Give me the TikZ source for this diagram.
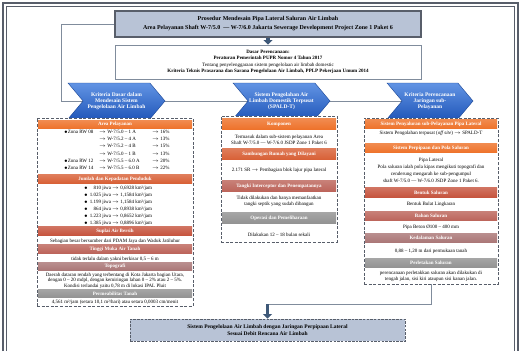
\documentclass[tikz,border=0pt]{standalone}
\usepackage{fontspec}
\setmainfont{Liberation Serif}
\usepackage{tikz}
\usetikzlibrary{arrows.meta, positioning, shapes.symbols, backgrounds}
\definecolor{framegray}{RGB}{88,94,106}
\definecolor{linkgray}{RGB}{128,140,156}
\definecolor{titlefill}{RGB}{184,195,214}
\definecolor{arrowblue}{RGB}{62,88,120}
\definecolor{chevtop}{RGB}{98,148,228}
\definecolor{chevbot}{RGB}{34,88,186}
\definecolor{hdrorange}{RGB}{238,114,42}
\definecolor{hdrburnt}{RGB}{216,96,54}
\definecolor{hdrbrick}{RGB}{198,84,62}
\definecolor{hdrrose}{RGB}{188,100,90}
\definecolor{hdrmauve}{RGB}{170,118,118}
\definecolor{hdrgray}{RGB}{146,146,146}
\tikzset{
    % Title and planning basis
    titlebox/.style={rectangle, draw=framegray, line width=1.2pt, fill=titlefill,
                minimum width=306pt, minimum height=26pt, align=center, inner sep=0pt,
                font=\fontsize{6}{9}\selectfont\bfseries},
    basisbox/.style={rectangle, draw=linkgray, line width=0.9pt, fill=white,
                minimum width=306pt, minimum height=34pt, align=center, inner sep=0pt,
                font=\fontsize{5}{6.4}\selectfont},
    endbox/.style={rectangle, draw=framegray, dash pattern=on 2.5pt off 1.2pt, line width=0.9pt,
                fill=titlefill, minimum width=275pt, minimum height=22pt, align=center,
                inner sep=0pt, font=\fontsize{5.5}{7.3}\selectfont\bfseries},
    % Chevrons
    chevbox/.style={shape=signal, signal from=west, signal to=east, signal pointer angle=100,
                top color=chevtop, bottom color=chevbot, draw=chevbot!80!black, line width=0.4pt,
                minimum height=36pt, inner sep=0pt, text=white, align=center,
                font=\fontsize{5.5}{6.3}\selectfont\bfseries},
    % Columns
    colbox/.style={rectangle, draw=framegray, dash pattern=on 3pt off 1.6pt, line width=0.9pt,
                fill=white, inner sep=0pt},
    hdrbox/.style={rectangle, top color=#1!82!white, bottom color=#1, inner sep=0pt,
                text=white, font=\fontsize{5}{6}\selectfont\bfseries},
    lhdr/.style={hdrbox=#1, minimum width=154pt, minimum height=8.5pt},
    mhdr/.style={hdrbox=#1, minimum width=114pt, minimum height=11pt},
    rhdr/.style={hdrbox=#1, minimum width=132pt, minimum height=9.5pt},
    bodytxt/.style={align=center, inner sep=0pt, font=\fontsize{5}{6.4}\selectfont},
    % Connectors
    linkline/.style={draw=linkgray, line width=1pt},
    blockarrow/.style={arrowblue, line width=3.5pt, -{Triangle[length=4.5pt, width=9pt]}},
}
\begin{document}
\begin{tikzpicture}[x=1pt, y=-1pt]
\useasboundingbox (0,0) rectangle (521,351);

% Page frame
\draw[framegray, line width=1.4pt] (3,351) -- (3,3) -- (518,3) -- (518,351);
\draw[framegray, line width=0.5pt] (6.5,351) -- (6.5,6.5) -- (514.5,6.5) -- (514.5,351);

% Title
\node[titlebox] (title) at (268,24) {Prosedur Mendesain Pipa Lateral Saluran Air Limbah\\
    Area Pelayanan Shaft W-7/5.0 \ --- W-7/6.0 Jakarta Sewerage Development Project Zone 1 Paket 6};

% Planning basis
\node[basisbox] (basis) at (268,62) {\textbf{Dasar Perencanaan:}\\
    \textbf{Peraturan Pemerintah PUPR Nomor 4 Tahun 2017}\\
    Tentang penyelenggaraan sistem pengelolaan air limbah domestic\\
    \textbf{Kriteria Teknis Prasarana dan Sarana Pengelolaan Air Limbah, PPLP Pekerjaan Umum 2014}};

% Chevrons
\node[chevbox, minimum width=97pt] (lchev) at (116.5,101) {Kriteria Dasar dalam\\Mendesain Sistem\\Pengelolaan Air Limbah};
\node[chevbox, minimum width=97pt] (mchev) at (281.5,101) {Sistem Pengolahan Air\\Limbah Domestik Terpusat\\(SPALD-T)};
\node[chevbox, minimum width=86pt] (rchev) at (430,101) {Kriteria Perencanaan\\Jaringan sub-\\Pelayanan};

% Left column
\node[colbox, minimum width=156pt, minimum height=188pt] (lcol) at (115,212) {};
\node[lhdr=hdrorange] (lh1) at (115,124.5) {Area Pelayanan};
\node[bodytxt, anchor=west, font=\fontsize{5}{7.2}\selectfont] (larea) at (64,150) {%
    \begin{tabular}{@{}p{35pt}@{}p{53pt}@{}l@{}}
    $\bullet$Zona RW 08 & $\rightarrow$ W-7/5.0 -- 1 A & $\rightarrow$ 16\%\\
     & $\rightarrow$ W-7/5.2 -- 4 A & $\rightarrow$ 13\%\\
     & $\rightarrow$ W-7/5.2 -- 4 B & $\rightarrow$ 15\%\\
     & $\rightarrow$ W-7/5.0 -- 1 B & $\rightarrow$ 13\%\\
    $\bullet$Zona RW 12 & $\rightarrow$ W-7/5.5 -- 6.0 A & $\rightarrow$ 20\%\\
    $\bullet$Zona RW 14 & $\rightarrow$ W-7/5.5 -- 6.0 B & $\rightarrow$ 22\%
    \end{tabular}};
\node[lhdr=hdrburnt] (lh2) at (115,179) {Jumlah dan Kepadatan Penduduk};
\node[bodytxt, anchor=west, font=\fontsize{5}{7}\selectfont] (lpop) at (84,205.5) {%
    \begin{tabular}{@{}l@{\hspace{2pt}}r@{ }l@{}}
    $\bullet$ & 810 & jiwa $\rightarrow$ 0,6928 km²/jam\\
    $\bullet$ & 1.025 & jiwa $\rightarrow$ 1,1584 km²/jam\\
    $\bullet$ & 1.199 & jiwa $\rightarrow$ 1,1584 km²/jam\\
    $\bullet$ & 864 & jiwa $\rightarrow$ 0,8938 km²/jam\\
    $\bullet$ & 1.223 & jiwa $\rightarrow$ 0,8652 km²/jam\\
    $\bullet$ & 1.385 & jiwa $\rightarrow$ 0,8896 km²/jam
    \end{tabular}};
\node[lhdr=hdrbrick] (lh3) at (115,231) {Suplai Air Bersih};
\node[bodytxt] (lwater) at (115,241) {Sebagian besar bersumber dari PDAM Jaya dan Waduk Jatiluhur};
\node[lhdr=hdrrose] (lh4) at (115,249) {Tinggi Muka Air Tanah};
\node[bodytxt] (lground) at (115,259) {tidak terlalu dalam yakni berkisar 0,5 -- 6 m};
\node[lhdr=hdrmauve] (lh5) at (115,266.5) {Topografi};
\node[bodytxt, font=\fontsize{5}{5.6}\selectfont] (ltopo) at (115,280.5) {Daerah dataran rendah yang terbentang di Kota Jakarta bagian Utara,\\
    dengan 0 -- 20 mdpl, dengan kemiringan lahan 0 -- 2\% atau 2 -- 5\%.\\
    Kondisi terlandai yaitu 0,78 m di lokasi IPAL Pluit};
\node[lhdr=hdrgray] (lh6) at (115,293.5) {Permeabilitas Tanah};
\node[bodytxt] (lperm) at (115,302) {4,561 m²/jam (setara 10,1 m²/hari) atau setara 0,0003 cm/menit};

% Middle column
\node[colbox, minimum width=116pt, minimum height=126pt] (mcol) at (279,179) {};
\node[mhdr=hdrorange] (mh1) at (279,124) {Komponen};
\node[bodytxt, font=\fontsize{5}{5.8}\selectfont] (mcomp) at (279,140) {Termasuk dalam sub-sistem pelayanan Area\\Shaft W-7/5.0 --- W-7/6.0 JSDP Zone 1 Paket 6};
\node[mhdr=hdrburnt] (mh2) at (279,154) {Sambungan Rumah yang Dilayani};
\node[bodytxt] (mhouse) at (279,170) {2.171 SR $\rightarrow$ Pembagian blok lajur pipa lateral};
\node[mhdr=hdrrose] (mh3) at (279,186) {Tangki Interceptor dan Penempatannya};
\node[bodytxt, font=\fontsize{5}{6}\selectfont] (mtank) at (279,201) {Tidak dilakukan dan hanya memanfaatkan\\tangki septik yang sudah dibangun};
\node[mhdr=hdrgray] (mh4) at (279,218) {Operasi dan Pemeliharaan};
\node[bodytxt] (moper) at (279,235) {Dilakukan 12 -- 18 bulan sekali};

% Right column
\node[colbox, minimum width=134pt, minimum height=166pt] (rcol) at (431,201) {};
\node[rhdr=hdrorange] (rh1) at (431,124) {Sistem Penyaluran sub-Pelayanan Pipa Lateral};
\node[bodytxt] (rsys) at (431,133.5) {Sistem Pengolahan terpusat (\textit{off site}) $\rightarrow$ SPALD-T};
\node[rhdr=hdrorange] (rh2) at (431,148) {Sistem Perpipaan dan Pola Saluran};
\node[bodytxt, font=\fontsize{5}{6.9}\selectfont] (rpipe) at (431,170.5) {Pipa Lateral\\
    Pola saluran ialah pola kipas mengikuti topografi dan\\
    cenderung mengarah ke sub-pengumpul\\
    shaft W-7/5.0 --- W-7/6.0 JSDP Zone 1 Paket 6.};
\node[rhdr=hdrbrick] (rh3) at (431,192.5) {Bentuk Saluran};
\node[bodytxt] (rshape) at (431,204) {Bentuk Bulat Lingkaran};
\node[rhdr=hdrrose] (rh4) at (431,216) {Bahan Saluran};
\node[bodytxt] (rmat) at (431,227.5) {Pipa Beton Ø100 -- 400 mm};
\node[rhdr=hdrmauve] (rh5) at (431,238) {Kedalaman Saluran};
\node[bodytxt] (rdepth) at (431,251) {0,88 -- 1,20 m dari permukaan tanah};
\node[rhdr=hdrgray] (rh6) at (431,263) {Perletakan Saluran};
\node[bodytxt, font=\fontsize{5}{5.8}\selectfont] (rplace) at (431,276) {perencanaan perletakkan saluran akan dilakukan di\\tengah jalan, sisi kiri ataupun sisi kanan jalan.};

% Result
\node[endbox] (result) at (267.5,330) {Sistem Pengelolaan Air Limbah dengan Jaringan Perpipaan Lateral\\Sesuai Debit Rencana Air Limbah};

% Connectors
\begin{scope}[on background layer]
\draw[linkline] (title.west) -| (61,101) -- (rchev.center);
\end{scope}
\draw[blockarrow] (title.south) -- (basis.north);
\coordinate (turn) at (267.5,304);
\draw[linkline] (rcol.south) |- (turn);
\draw[blockarrow] (turn) -- (result.north);

\end{tikzpicture}
\end{document}
